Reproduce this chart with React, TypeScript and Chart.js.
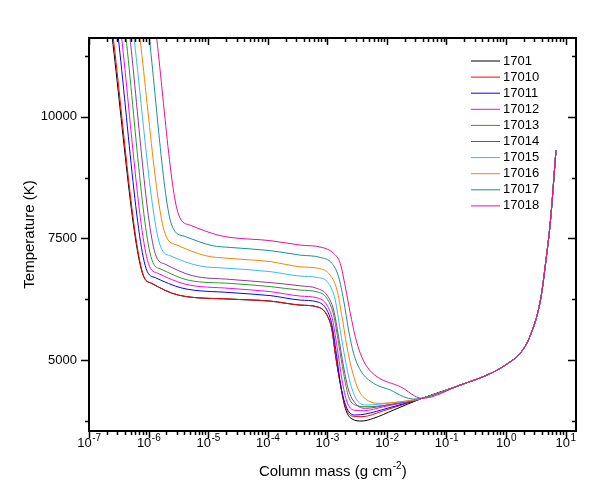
import React, { useEffect, useRef } from "react";
import { Chart, registerables } from "chart.js";

Chart.register(...registerables);

// ---- Data ----
const seriesLabels = ["1701", "17010", "17011", "17012", "17013", "17014", "17015", "17016", "17017", "17018"];
const seriesColors = ["#000000", "#ff0000", "#0000ff", "#ff00ff", "#2a9a2a", "#993399", "#33bbff", "#ff8000", "#1a9090", "#ff0a84"];

// shared deep-layer tail (all models converge)
const tailMass = [0.0391, 0.172, 0.586, 1.1, 1.75, 2.58, 3.8, 4.7, 5.6, 6.92];
const tailTemp = [4212, 4485, 4738, 4937, 5143, 5512, 6232, 7053, 7875, 9313];

const mass1701 = [2.25e-7, 7.9e-7, 1.13e-6, 3.17e-6, 2.34e-5, 1.1e-4, 3.52e-4, 6.71e-4, 9.89e-4, 1.2e-3, 1.36e-3, 1.65e-3, 2.01e-3, 2.6e-3, 3.83e-3, 6.0e-3, 1.3e-2];
const temp1701 = [12000, 6780, 6575, 6334, 6252, 6211, 6129, 6094, 5923, 5615, 5136, 4520, 4006, 3787, 3745, 3801, 3971];

const mass17010 = [2.35e-7, 8.0e-7, 1.13e-6, 3.17e-6, 2.34e-5, 1.1e-4, 3.52e-4, 6.71e-4, 9.89e-4, 1.2e-3, 1.36e-3, 1.65e-3, 2.01e-3, 2.6e-3, 3.83e-3, 8.83e-3];
const temp17010 = [12000, 6780, 6575, 6334, 6252, 6211, 6129, 6094, 5923, 5615, 5136, 4520, 4039, 3848, 3834, 3957];

const mass17011 = [2.86e-7, 9.08e-7, 1.29e-6, 3.66e-6, 2.34e-5, 1.1e-4, 3.52e-4, 6.71e-4, 9.89e-4, 1.2e-3, 1.42e-3, 1.7e-3, 2.14e-3, 2.96e-3, 4.36e-3, 1.01e-2];
const temp17011 = [12000, 6883, 6694, 6478, 6386, 6324, 6232, 6197, 6026, 5718, 5136, 4450, 4006, 3869, 3889, 4006];

const mass17012 = [3.26e-7, 9.93e-7, 1.42e-6, 4.1e-6, 2.34e-5, 1.1e-4, 3.52e-4, 6.71e-4, 9.89e-4, 1.23e-3, 1.46e-3, 1.77e-3, 2.14e-3, 2.77e-3, 4.07e-3, 8.83e-3];
const temp17012 = [12000, 6986, 6786, 6560, 6472, 6406, 6314, 6279, 6129, 5821, 5272, 4588, 4142, 3971, 3957, 4039];

const mass17013 = [3.87e-7, 1.13e-6, 1.62e-6, 4.61e-6, 2.34e-5, 1.1e-4, 3.52e-4, 6.71e-4, 9.89e-4, 1.28e-3, 1.55e-3, 1.88e-3, 2.28e-3, 2.96e-3, 4.65e-3, 1.01e-2];
const temp17013 = [12000, 7068, 6868, 6642, 6575, 6509, 6437, 6402, 6266, 5923, 5342, 4725, 4245, 4074, 4039, 4074];

const mass17014 = [4.51e-7, 1.29e-6, 1.89e-6, 5.38e-6, 2.34e-5, 1.1e-4, 3.52e-4, 6.71e-4, 9.89e-4, 1.28e-3, 1.55e-3, 1.88e-3, 2.28e-3, 2.96e-3, 4.36e-3, 1.01e-2];
const temp17014 = [12000, 7191, 6971, 6735, 6657, 6591, 6525, 6472, 6334, 6026, 5478, 4861, 4382, 4109, 4006, 4074];

const mass17015 = [5.24e-7, 1.56e-6, 2.39e-6, 6.79e-6, 2.34e-5, 1.1e-4, 3.52e-4, 6.71e-4, 1.05e-3, 1.36e-3, 1.65e-3, 2.01e-3, 2.44e-3, 3.15e-3, 4.65e-3, 1.01e-2];
const temp17015 = [12000, 7362, 7136, 6940, 6883, 6817, 6725, 6698, 6575, 6232, 5615, 5000, 4520, 4177, 4074, 4109];

const mass17016 = [6.57e-7, 1.89e-6, 3.01e-6, 8.91e-6, 2.34e-5, 1.1e-4, 3.52e-4, 7.15e-4, 1.12e-3, 1.46e-3, 1.77e-3, 2.14e-3, 2.6e-3, 3.36e-3, 4.65e-3, 7.78e-3, 1.69e-2];
const temp17016 = [12000, 7602, 7362, 7146, 7088, 7023, 6916, 6883, 6745, 6437, 5888, 5272, 4793, 4382, 4177, 4109, 4142];

const mass17017 = [9.51e-7, 2.45e-6, 3.95e-6, 1.17e-5, 2.34e-5, 1.1e-4, 3.52e-4, 7.62e-4, 1.2e-3, 1.55e-3, 1.88e-3, 2.28e-3, 2.77e-3, 3.59e-3, 6.0e-3, 1.15e-2, 1.91e-2, 2.82e-2];
const temp17017 = [12000, 7772, 7546, 7351, 7314, 7249, 7156, 7109, 6986, 6710, 6232, 5615, 5136, 4793, 4520, 4382, 4245, 4197];

const mass17018 = [1.26e-6, 3.17e-6, 4.98e-6, 1.47e-5, 2.34e-5, 1.1e-4, 3.52e-4, 8.15e-4, 1.28e-3, 1.65e-3, 2.01e-3, 2.44e-3, 2.96e-3, 3.59e-3, 4.65e-3, 6.84e-3, 1.69e-2];
const temp17018 = [12000, 8000, 7772, 7567, 7520, 7454, 7362, 7314, 7191, 6986, 6505, 5958, 5478, 5136, 4861, 4656, 4450];

const seriesMass = [mass1701, mass17010, mass17011, mass17012, mass17013, mass17014, mass17015, mass17016, mass17017, mass17018];
const seriesTemp = [temp1701, temp17010, temp17011, temp17012, temp17013, temp17014, temp17015, temp17016, temp17017, temp17018];

// axes
const xMin = 1e-7;
const xMax = 15;
const yMin = 3540;
const yMax = 11620;
const xTickExponents = [-7, -6, -5, -4, -3, -2, -1, 0, 1];
const xTickValues = [1e-7, 1e-6, 1e-5, 1e-4, 1e-3, 1e-2, 1e-1, 1e0, 1e1];
const yTickValues = [5000, 7500, 10000];
const yMinorTicks = [3750, 6250, 8750, 11250];

const xTitleMain = "Column mass (g cm";
const xTitleSup = "-2";
const xTitleEnd = ")";
const yTitle = "Temperature (K)";

const FONT = "'Liberation Sans', Arial, Helvetica, sans-serif";

const framePlugin = {
  id: "frameTicksLegend",
  afterDatasetsDraw(chart: any) {
    const { ctx, chartArea } = chart;
    const { left, right, top, bottom } = chartArea;
    const xs = chart.scales.x;
    const ys = chart.scales.y;
    ctx.save();
    ctx.strokeStyle = "#000";
    ctx.lineWidth = 1.5;
    ctx.beginPath();
    // x ticks: bottom outward, top inward
    for (const e of xTickExponents) {
      for (let k = 1; k <= 9; k++) {
        const v = k * Math.pow(10, e);
        if (v < xMin || v > xMax) continue;
        const px = Math.round(xs.getPixelForValue(v)) + 0.5;
        const len = k === 1 ? 7 : 4;
        ctx.moveTo(px, bottom);
        ctx.lineTo(px, bottom + len);
        ctx.moveTo(px, top);
        ctx.lineTo(px, top + len);
      }
    }
    const yTicks = [
      ...yTickValues.map((v) => [v, 8]),
      ...yMinorTicks.map((v) => [v, 4]),
    ];
    for (const [v, len] of yTicks) {
      const py = Math.round(ys.getPixelForValue(v)) + 0.5;
      ctx.moveTo(left - len, py);
      ctx.lineTo(left, py);
      ctx.moveTo(right - len, py);
      ctx.lineTo(right, py);
    }
    ctx.stroke();
    ctx.lineWidth = 2;
    ctx.strokeRect(left, top, right - left, bottom - top);

    // x tick labels: 10 with superscript exponent
    ctx.fillStyle = "#000";
    ctx.textBaseline = "middle";
    ctx.textAlign = "left";
    xTickExponents.forEach((e, i) => {
      const px = xs.getPixelForValue(xTickValues[i]);
      ctx.font = `13px ${FONT}`;
      const w1 = ctx.measureText("10").width;
      ctx.font = `10px ${FONT}`;
      const w2 = ctx.measureText(String(e)).width;
      const x0 = px - (w1 + w2) / 2;
      ctx.font = `13px ${FONT}`;
      ctx.fillText("10", x0, bottom + 12);
      ctx.font = `10px ${FONT}`;
      ctx.fillText(String(e), x0 + w1 + 0.5, bottom + 7);
    });

    // x axis title with superscript
    {
      ctx.font = `15px ${FONT}`;
      const a = ctx.measureText(xTitleMain).width;
      const c = ctx.measureText(xTitleEnd).width;
      ctx.font = `10px ${FONT}`;
      const b = ctx.measureText(xTitleSup).width;
      const cx = (left + right) / 2;
      const x0 = cx - (a + b + c) / 2;
      const yy = 472;
      ctx.font = `15px ${FONT}`;
      ctx.fillText(xTitleMain, x0, yy);
      ctx.fillText(xTitleEnd, x0 + a + b + 0.5, yy);
      ctx.font = `10px ${FONT}`;
      ctx.fillText(xTitleSup, x0 + a + 0.5, yy - 6);
    }

    // legend
    ctx.font = `13px ${FONT}`;
    ctx.textBaseline = "middle";
    ctx.textAlign = "left";
    ctx.lineWidth = 1;
    seriesLabels.forEach((label, i) => {
      const yy = 61 + i * 16.1;
      ctx.strokeStyle = seriesColors[i];
      ctx.beginPath();
      ctx.moveTo(471, yy);
      ctx.lineTo(500, yy);
      ctx.stroke();
      ctx.fillStyle = "#000";
      ctx.fillText(label, 503, yy);
    });
    ctx.restore();
  },
};

export default function App() {
  const ref = useRef<HTMLCanvasElement>(null);
  useEffect(() => {
    if (!ref.current) return;
    const datasets = seriesLabels.map((label, i) => {
      const m = [...seriesMass[i], ...tailMass];
      const t = [...seriesTemp[i], ...tailTemp];
      return {
        label,
        data: m.map((x, j) => ({ x, y: t[j] })),
        borderColor: seriesColors[i],
        backgroundColor: seriesColors[i],
        borderWidth: 1,
        pointRadius: 0,
        fill: false,
        order: seriesLabels.length - i,
        cubicInterpolationMode: "monotone" as const,
      };
    });
    const chart = new Chart(ref.current, {
      type: "line",
      data: { datasets },
      options: {
        responsive: false,
        animation: false,
        devicePixelRatio: 1,
        layout: { padding: { left: 0, right: 22, top: 38, bottom: 0 } },
        plugins: { legend: { display: false }, tooltip: { enabled: false } },
        scales: {
          x: {
            type: "logarithmic",
            min: xMin,
            max: xMax,
            grid: { display: false, drawTicks: false },
            border: { display: false },
            afterBuildTicks: (s: any) => {
              s.ticks = xTickValues.map((v) => ({ value: v }));
            },
            afterFit: (s: any) => {
              s.height = 65;
            },
            ticks: { display: false, autoSkip: false, maxRotation: 0 },
            title: { display: false },
          },
          y: {
            type: "linear",
            min: yMin,
            max: yMax,
            grid: { display: false, drawTicks: false },
            border: { display: false },
            afterBuildTicks: (s: any) => {
              s.ticks = yTickValues.map((v) => ({ value: v }));
            },
            afterFit: (s: any) => {
              s.width = 89;
            },
            ticks: {
              padding: 12,
              color: "#000",
              font: { family: FONT, size: 13 },
              callback: (v: any) => String(v),
            },
            title: {
              display: true,
              text: yTitle,
              color: "#000",
              font: { family: FONT, size: 15 },
              padding: { top: 21, bottom: 0 },
            },
          },
        },
      },
      plugins: [framePlugin],
    });
    return () => chart.destroy();
  }, []);
  return (
    <div style={{ position: "absolute", left: 0, top: 0, width: 598, height: 496, background: "#fff" }}>
      <canvas ref={ref} width={598} height={496} style={{ display: "block", width: 598, height: 496 }} />
    </div>
  );
}
